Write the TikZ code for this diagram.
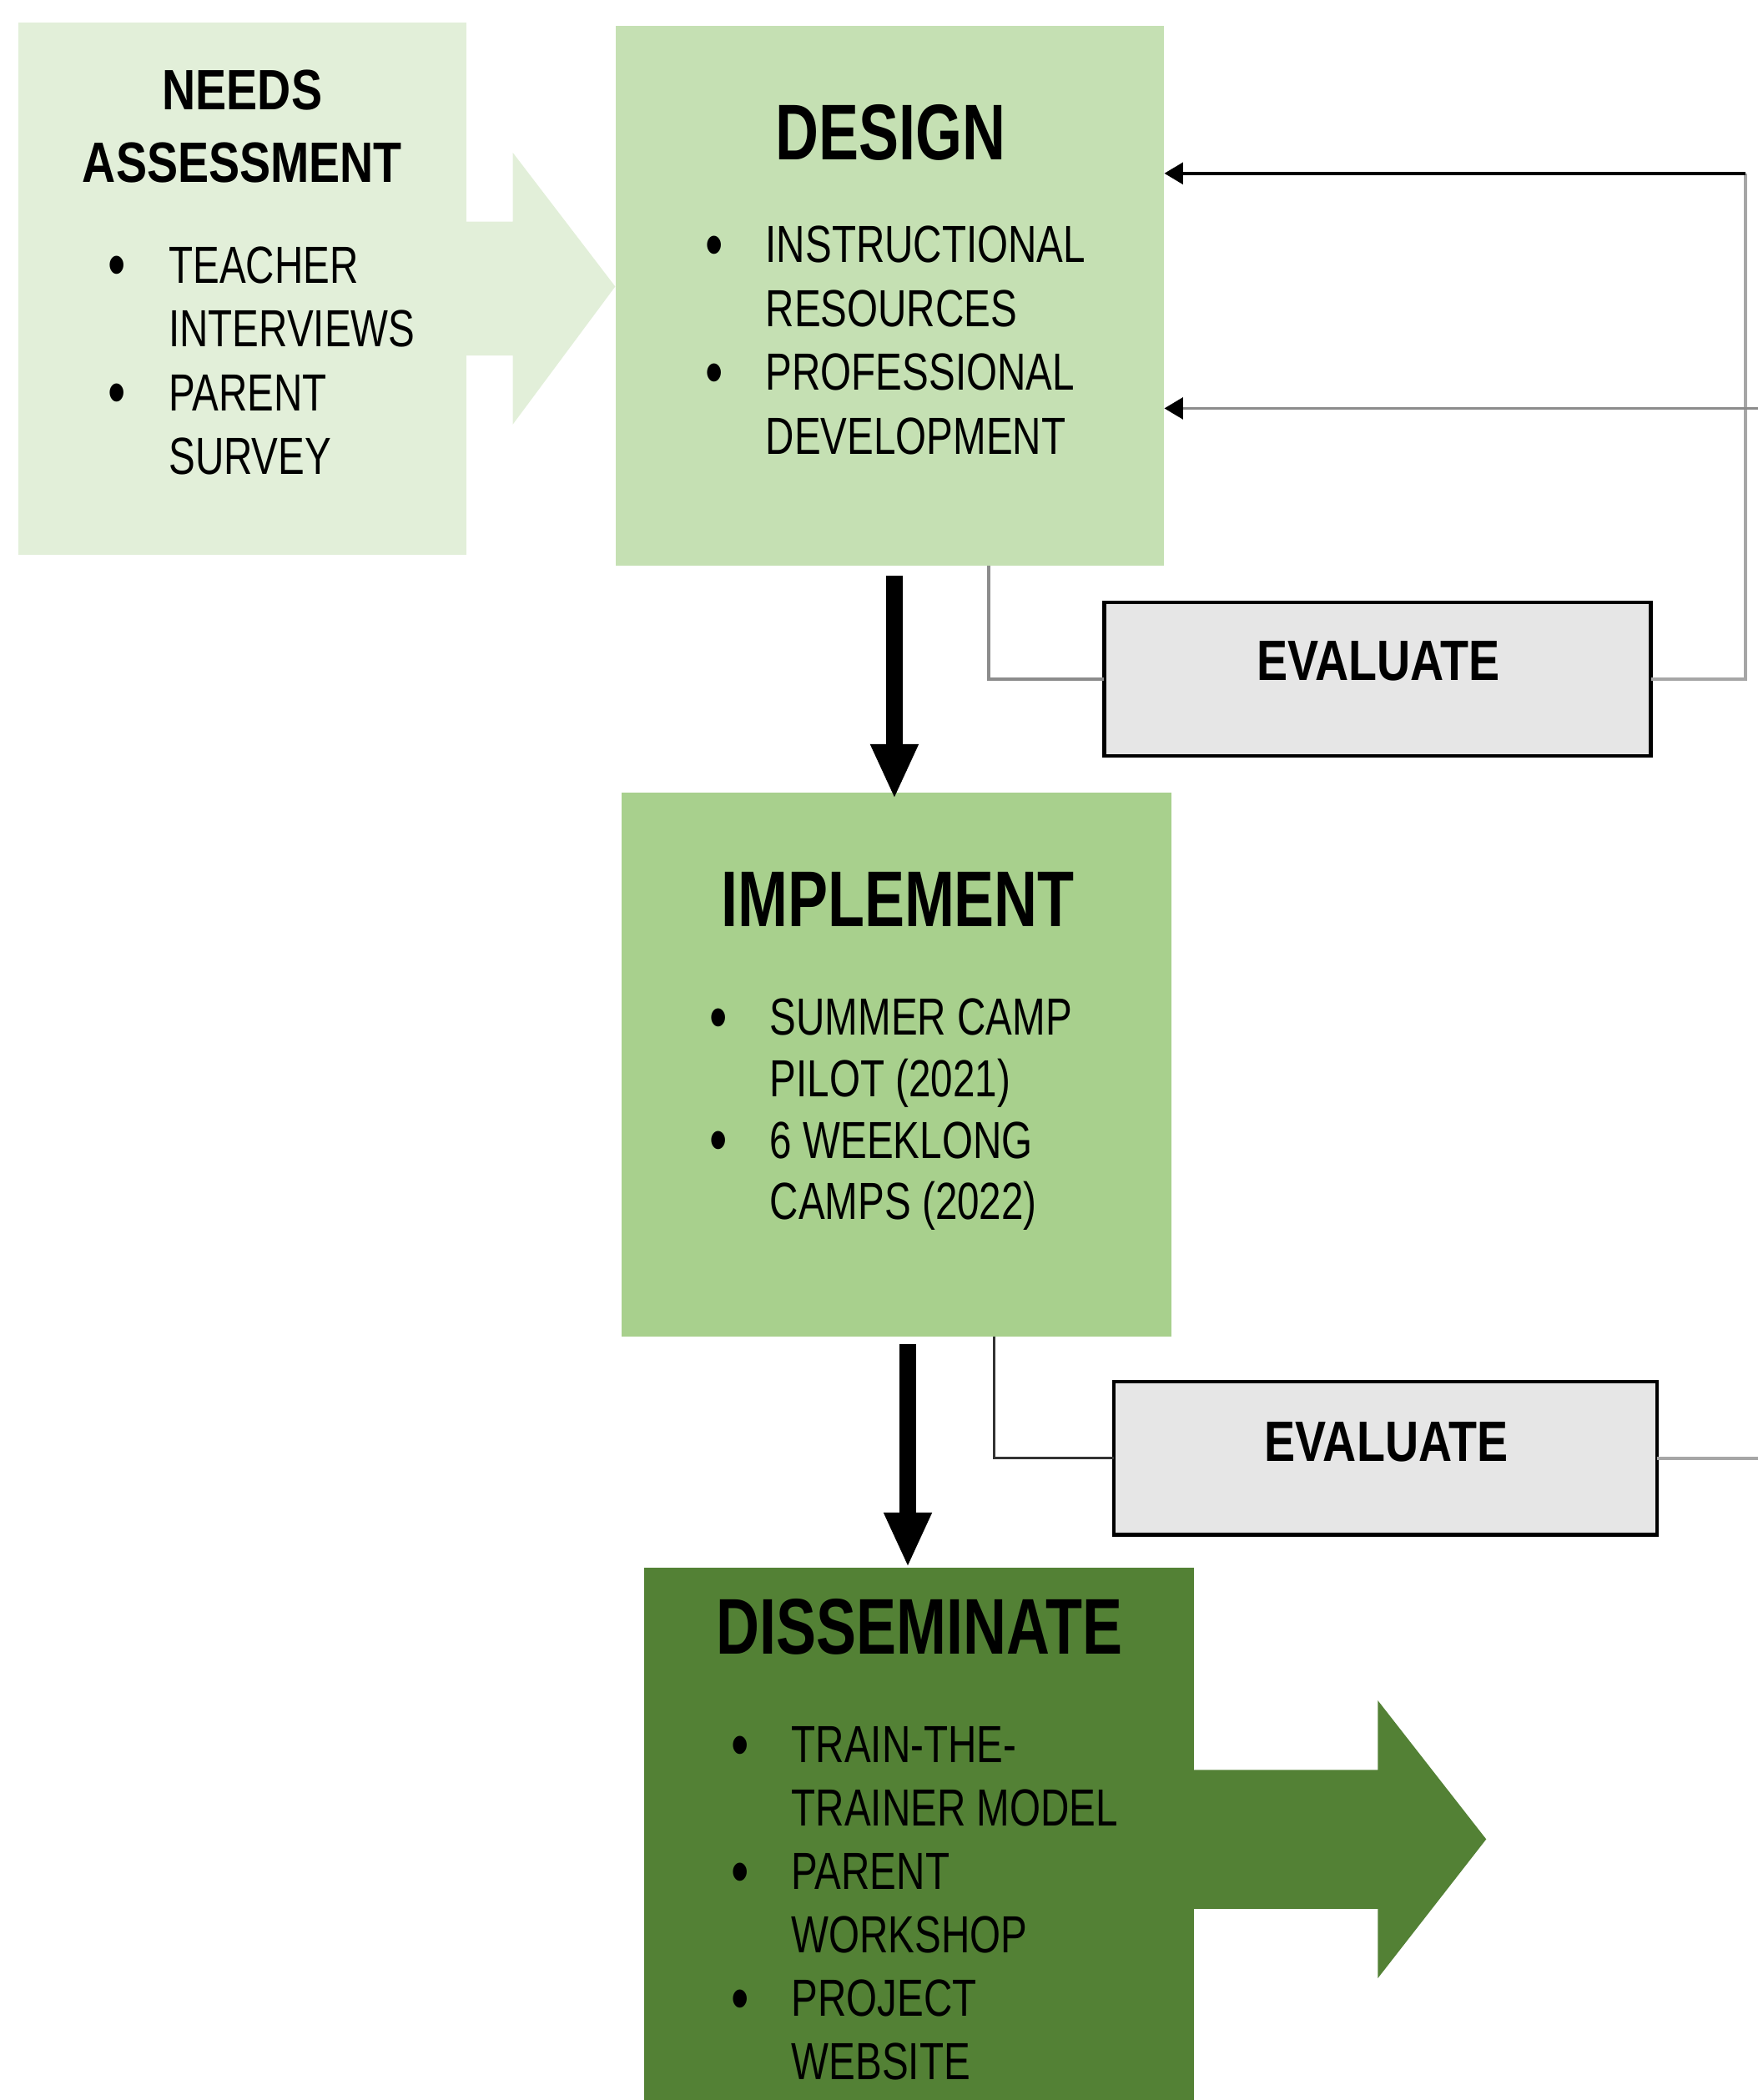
\documentclass[tikz,border=0pt]{standalone}
\usepackage{fontspec}
\setmainfont{Liberation Sans}[FakeStretch=0.76]
\newfontfamily\narrowbold{Liberation Sans}[FakeStretch=0.815]
\usetikzlibrary{arrows.meta}
\definecolor{needsfill}{HTML}{E2EFD9}
\definecolor{designfill}{HTML}{C5E0B3}
\definecolor{implfill}{HTML}{A8D08D}
\definecolor{dissemfill}{HTML}{538135}
\definecolor{evalfill}{HTML}{E6E6E6}
\definecolor{linkgray}{HTML}{8C8C8C}
\definecolor{lightlink}{HTML}{A6A6A6}
\newcommand\itembul{\llap{{\fontsize{50}{47}\selectfont\raisebox{-3.5pt}{\textbullet}}\hspace{32pt}}}
\begin{document}
\begin{tikzpicture}[x=1pt,y=-1pt,
  box/.style={rectangle, inner sep=0pt, outer sep=0pt, anchor=north west},
  evalbox/.style={box, draw=black, line width=2.8pt, fill=evalfill},
  listtext/.style={inner sep=0pt, anchor=base west, font=\fontsize{39}{#1}\selectfont},
  bigtitle/.style={inner sep=0pt, anchor=base, font=\bfseries\fontsize{59}{70}\selectfont},
  smalltitle/.style={inner sep=0pt, anchor=base, font=\narrowbold\bfseries\fontsize{42.5}{54.3}\selectfont},
  bigarrow/.style={line width=13pt, -{Triangle[length=41pt,width=33pt]}},
  link/.style={line width=2.4pt},
  linkarrow/.style={line width=2.4pt, -{Triangle[length=14pt,width=16pt,color=black]}}]
\useasboundingbox (0,0) rectangle (1313,1568.5);
\clip (0,0) rectangle (1313,1568.5);

% NEEDS ASSESSMENT
\node[box, fill=needsfill, minimum width=334.9pt, minimum height=397.8pt] (needs) at (13.5,16.7) {};
\fill[needsfill] (345,165.5) -- (383,165.5) -- (383,114) -- (459.5,214) -- (383,317) -- (383,265.5) -- (345,265.5) -- cycle;
\node[smalltitle] (needsTitle) at (181,82) {\begin{tabular}[t]{@{}c@{}}NEEDS\\ASSESSMENT\end{tabular}};
\node[listtext=47.7] (needsList) at (125.9,211.4) {\begin{tabular}[t]{@{}l@{}}\itembul TEACHER\\INTERVIEWS\\\itembul PARENT\\SURVEY\end{tabular}};

% DESIGN
\node[box, fill=designfill, minimum width=409.6pt, minimum height=403.3pt] (design) at (460,19.5) {};
\node[bigtitle] (designTitle) at (665.4,119.6) {DESIGN};
\node[listtext=47.8] (designList) at (571.7,196) {\begin{tabular}[t]{@{}l@{}}\itembul INSTRUCTIONAL\\RESOURCES\\\itembul PROFESSIONAL\\DEVELOPMENT\end{tabular}};

% IMPLEMENT
\node[box, fill=implfill, minimum width=411pt, minimum height=406.2pt] (impl) at (464.2,591.8) {};
\node[bigtitle] (implTitle) at (670.5,692) {IMPLEMENT};
\node[listtext=45.9] (implList) at (574.9,773.3) {\begin{tabular}[t]{@{}l@{}}\itembul SUMMER CAMP\\PILOT (2021)\\\itembul 6 WEEKLONG\\CAMPS (2022)\end{tabular}};

% DISSEMINATE
\node[box, fill=dissemfill, minimum width=411pt, minimum height=400pt] (dissem) at (481,1170.7) {};
\fill[dissemfill] (886,1322) -- (1029,1322) -- (1029,1270) -- (1110,1373.7) -- (1029,1477.6) -- (1029,1425.7) -- (886,1425.7) -- cycle;
\node[bigtitle] (dissemTitle) at (686.6,1235.5) {DISSEMINATE};
\node[listtext=47.3] (dissemList) at (591,1316.7) {\begin{tabular}[t]{@{}l@{}}\itembul TRAIN-THE-\\TRAINER MODEL\\\itembul PARENT\\WORKSHOP\\\itembul PROJECT\\WEBSITE\end{tabular}};

% EVALUATE boxes
\node[evalbox, minimum width=408.3pt, minimum height=114.6pt] (eval1) at (824.7,450) {};
\node[smalltitle] (eval1Text) at (1029.3,508) {EVALUATE};
\node[evalbox, minimum width=405.6pt, minimum height=114.5pt] (eval2) at (832,1031.8) {};
\node[smalltitle] (eval2Text) at (1035.4,1091.3) {EVALUATE};

% main flow arrows
\draw[bigarrow] ([xshift=3.2pt,yshift=-7.2pt]design.south) -- ([xshift=-1.7pt,yshift=-5pt]impl.north);
\draw[bigarrow] ([xshift=8.3pt,yshift=-6pt]impl.south) -- ([xshift=-8.5pt]dissem.north);

% feedback loops
\coordinate (loopTop) at (1303.7,129.5);
\coordinate (edgeIn) at (1313,305);
\coordinate (edgeOut) at (1313,1086.3);
\draw[link, draw=linkgray] ([xshift=73.5pt]design.south) |- (eval1.west);
\draw[link, draw=lightlink] (eval1.east) -| (loopTop);
\draw[linkarrow, draw=black] (loopTop) -- (loopTop -| design.east);
\draw[linkarrow, draw=linkgray] (edgeIn) -- (edgeIn -| design.east);
\draw[line width=1.8pt, draw=black!80] ([xshift=72.9pt]impl.south) |- (eval2.west);
\draw[link, draw=lightlink] (eval2.east) -- (eval2.east -| edgeOut);
\end{tikzpicture}
\end{document}
